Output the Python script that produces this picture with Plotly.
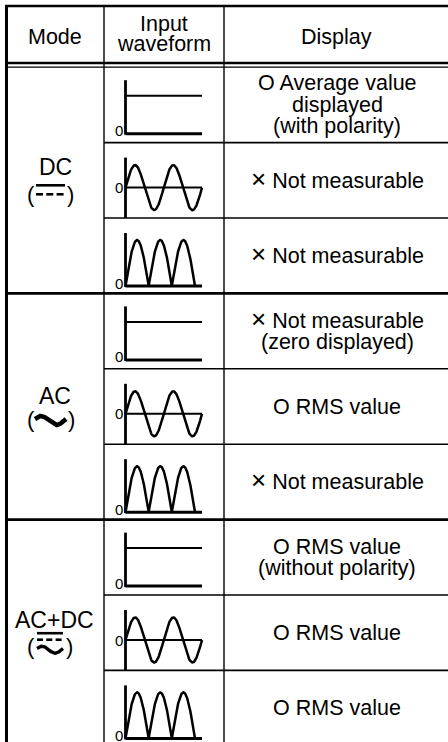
import numpy as np
import plotly.graph_objects as go

# table content
headers = ["Mode", "Input<br>waveform", "Display"]
modes = ["DC", "AC", "AC+DC"]
waveforms = ["dc", "sine", "rectified"]
display = [
    [["O Average value", "displayed", "(with polarity)"], ["× Not measurable"], ["× Not measurable"]],
    [["× Not measurable", "(zero displayed)"], ["O RMS value"], ["× Not measurable"]],
    [["O RMS value", "(without polarity)"], ["O RMS value"], ["O RMS value"]],
]

W, H = 448, 742
FONT = "Liberation Sans, Arial, Helvetica, sans-serif"
FS = 21.5
X_LEFT, X_C1, X_C2, X_RIGHT = 6.5, 104, 224, 452
Y_TOP, Y_HEAD = 6, 63
ROW0, ROW_H = 67.2, 75.4

fig = go.Figure()
shapes = []
ann = []


def hline(y, x0, x1, w):
    shapes.append(dict(type="line", x0=x0, x1=x1, y0=y, y1=y, line=dict(color="black", width=w)))


def vline(x, y0, y1, w):
    shapes.append(dict(type="line", x0=x, x1=x, y0=y0, y1=y1, line=dict(color="black", width=w)))


def text(x, y, s, size=FS, xanchor="center"):
    ann.append(dict(x=x, y=y, text=s, showarrow=False, xanchor=xanchor, yanchor="middle",
                    font=dict(family=FONT, size=size, color="black")))


def line_trace(xs, ys, w):
    fig.add_trace(go.Scatter(x=xs, y=ys, mode="lines", line=dict(color="black", width=w),
                             hoverinfo="skip", showlegend=False))


# grid
hline(Y_TOP, 5, X_RIGHT, 2.6)
hline(Y_HEAD, 5, X_RIGHT, 2.6)
hline(ROW0, 5, X_RIGHT, 1.3)
vline(X_LEFT, Y_TOP - 1, H + 5, 3)
vline(X_C1, Y_TOP, H + 5, 1.4)
vline(X_C2, Y_TOP, H + 5, 1.4)

# header
text(55, 37, headers[0])
text(164, 24, "Input")
text(164, 44, "waveform")
text(336, 37, headers[2])

for g, mode in enumerate(modes):
    for r, wf in enumerate(waveforms):
        top = ROW0 + (g * 3 + r) * ROW_H
        bot = top + ROW_H
        if r == 2:
            hline(bot, 5, X_RIGHT, 2.6)
        else:
            hline(bot, X_C1, X_RIGHT, 1.6)

        # waveform
        ax = 125.5
        if wf == "dc":
            base = top + 66.5
            line_trace([ax, ax], [top + 13, base + 1], 2.8)
            line_trace([ax, 202], [base, base], 3)
            line_trace([ax, 202], [top + 28.5, top + 28.5], 2)
            text(119, base - 3, "0", size=15)
        elif wf == "sine":
            zero = top + 45
            line_trace([ax, ax], [top + 15, bot], 2.8)
            line_trace([ax, 202], [zero, zero], 2)
            xs = np.linspace(ax, 202, 200)
            ys = zero - 22.5 * np.sin(2 * np.pi * (xs - ax) / ((202 - ax) / 2))
            line_trace(xs, ys, 2.5)
            text(119, zero, "0", size=15)
        else:
            base = top + 68
            line_trace([ax, ax], [top + 15, base + 1], 2.8)
            line_trace([ax, 202], [base, base], 3)
            xs = np.linspace(ax, 195, 300)
            ys = base - 46 * np.abs(np.sin(np.pi * (xs - ax) / ((195 - ax) / 3)))
            line_trace(xs, ys, 2.5)
            text(119, base - 3, "0", size=15)

        # display text (the cross mark is a bit larger than the text, as in the original)
        lines = display[g][r]
        mid = top + ROW_H / 2
        n = len(lines)
        for i, s in enumerate(lines):
            dy = 0
            if "×" in s:
                s = s.replace("×", "<span style='font-size:26px'>×</span>")
                dy = -1.5
            text(337, mid + (i - (n - 1) / 2) * 21.5 + dy, s)

    # mode label + symbol
    gtop = ROW0 + g * 3 * ROW_H
    gmid = gtop + 1.5 * ROW_H
    if mode == "DC":
        text(55, gmid - 13, mode, size=23)
        text(31, gmid + 14, "(", size=22)
        text(70, gmid + 14, ")", size=22)
        line_trace([36, 65], [gmid + 5, gmid + 5], 2.6)
        for d in range(3):
            line_trace([36 + d * 10.3, 43 + d * 10.3], [gmid + 14, gmid + 14], 2.6)
    elif mode == "AC":
        text(55, gmid - 11, mode, size=23)
        text(31, gmid + 13, "(", size=22)
        text(71, gmid + 13, ")", size=22)
        xs = np.linspace(35, 66, 60)
        line_trace(xs, gmid + 14 - 4.5 * np.sin(2 * np.pi * (xs - 35) / 31 + 0.35), 4.5)
    else:
        text(54, gmid - 13, mode, size=23)
        text(31, gmid + 14, "(", size=22)
        text(69, gmid + 14, ")", size=22)
        line_trace([37, 63], [gmid + 0.5, gmid + 0.5], 2.6)
        for d in range(3):
            line_trace([37 + d * 9.3, 43 + d * 9.3], [gmid + 7, gmid + 7], 2.6)
        xs = np.linspace(37, 63, 60)
        line_trace(xs, gmid + 17 - 3.5 * np.sin(2 * np.pi * (xs - 37) / 26 + 0.35), 3.4)

fig.update_layout(
    width=W, height=H,
    margin=dict(l=0, r=0, t=0, b=0),
    paper_bgcolor="white", plot_bgcolor="white",
    xaxis=dict(range=[0, W], visible=False, fixedrange=True),
    yaxis=dict(range=[H, 0], visible=False, fixedrange=True),
    shapes=shapes,
    annotations=ann,
    showlegend=False,
)

# page body has an 8px default margin; drop it so the figure sits at (0, 0)
fig.write_html("out.html", config=dict(displayModeBar=False),
               post_script="document.body.style.margin='0';document.body.style.overflow='hidden';")
